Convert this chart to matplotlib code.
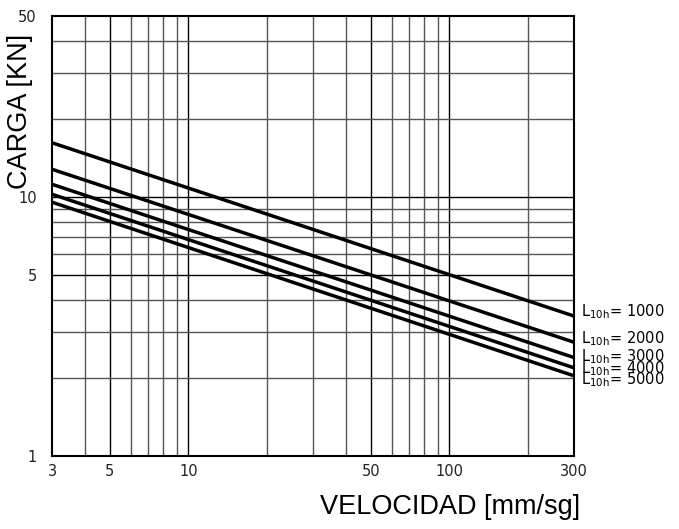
import matplotlib
matplotlib.use("Agg")
import matplotlib.pyplot as plt
from matplotlib.ticker import FixedLocator, NullFormatter, FixedFormatter

# data
velocity = [3, 300]
life_labels = ["1000", "2000", "3000", "4000", "5000"]
load_1000 = [16.2, 3.47]
load_2000 = [12.8, 2.75]
load_3000 = [11.2, 2.40]
load_4000 = [10.25, 2.19]
load_5000 = [9.55, 2.04]
series = [load_1000, load_2000, load_3000, load_4000, load_5000]
label_y = [3.62, 2.85, 2.42, 2.17, 1.97]

x_ticks = [3, 5, 10, 50, 100, 300]
x_tick_labels = ["3", "5", "10", "50", "100", "300"]
y_ticks = [1, 5, 10, 50]
y_tick_labels = ["1", "5", "10", "50"]
x_grid = [4, 5, 6, 7, 8, 9, 10, 20, 30, 40, 50, 60, 70, 80, 90, 100, 200]
y_grid = [2, 3, 4, 5, 6, 7, 8, 9, 10, 20, 30, 40]

fig = plt.figure(figsize=(6.79, 5.29), dpi=100)
ax = fig.add_axes([52/679, 1-456/529, (574-52)/679, (456-16)/529])
ax.set_xscale("log")
ax.set_yscale("log")
ax.set_xlim(3, 300)
ax.set_ylim(1, 50)

for gx in x_grid:
    c = "black" if gx in (5, 10, 50, 100) else "#555555"
    ax.axvline(gx, color=c, lw=1.0, zorder=1)
for gy in y_grid:
    c = "black" if gy in (5, 10) else "#555555"
    ax.axhline(gy, color=c, lw=1.0, zorder=1)

for s in series:
    ax.plot(velocity, s, color="black", lw=2.5, solid_capstyle="butt", zorder=3, clip_on=True)

ax.xaxis.set_major_locator(FixedLocator(x_ticks))
ax.xaxis.set_major_formatter(FixedFormatter(x_tick_labels))
ax.xaxis.set_minor_formatter(NullFormatter())
ax.yaxis.set_major_locator(FixedLocator(y_ticks))
ax.yaxis.set_major_formatter(FixedFormatter(y_tick_labels))
ax.yaxis.set_minor_formatter(NullFormatter())
ax.tick_params(axis="x", which="both", length=0, labelsize=10.5, pad=6, labelcolor="#222222")
ax.tick_params(axis="y", which="both", length=0, labelsize=10.5, pad=11, labelcolor="#222222")
for lbl in ax.get_xticklabels() + ax.get_yticklabels():
    lbl.set_fontfamily("DejaVu Sans")
for sp in ax.spines.values():
    sp.set_linewidth(1.5)

for lab, yv in zip(life_labels, label_y):
    ax.annotate(r"L$_{\mathregular{10h}}$= " + lab,
                xy=(300, yv), xycoords="data", xytext=(5, 0), textcoords="offset points",
                ha="left", va="center", fontsize=10.5, family="DejaVu Sans",
                annotation_clip=False)

fig.text(450/679, 1-507/529, "VELOCIDAD [mm/sg]", ha="center", va="center",
         fontsize=19.5, family="Liberation Sans")
fig.text(20/679, 1-111/529, "CARGA [KN]", ha="center", va="center", rotation=90,
         fontsize=19.5, family="Liberation Sans")

fig.savefig("out.png", dpi=100)
